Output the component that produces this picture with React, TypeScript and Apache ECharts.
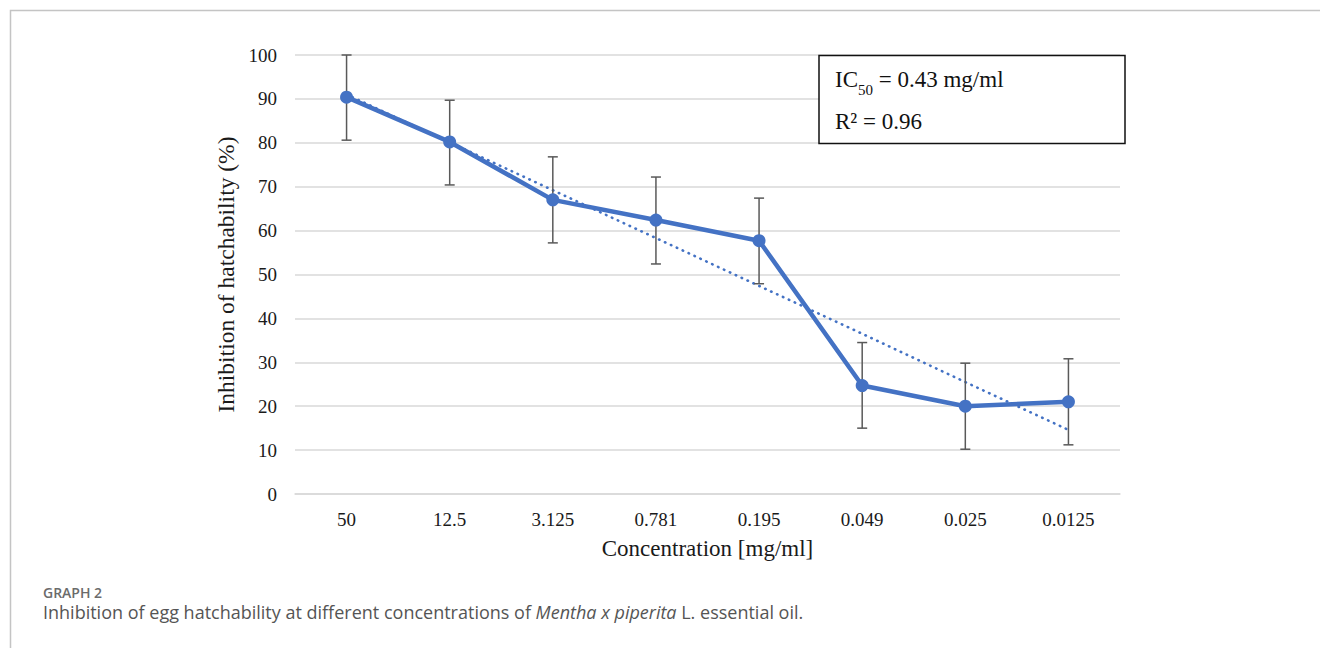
import React, { useEffect, useRef } from "react";
import * as echarts from "echarts";

const categories = ["50", "12.5", "3.125", "0.781", "0.195", "0.049", "0.025", "0.0125"];
const inhibition = [90.4, 80.2, 67.0, 62.4, 57.7, 24.7, 20.0, 21.0];
const errorLow = [80.6, 70.4, 57.2, 52.4, 47.9, 15.0, 10.2, 11.2];
const errorHigh = [100.0, 89.7, 76.8, 72.2, 67.4, 34.5, 29.8, 30.8];
const trendValues = [91.0, 80.1, 69.2, 58.3, 47.4, 36.5, 25.5, 14.6];
const yTicks = { min: 0, max: 100, interval: 10 };

const serif = "'Liberation Serif', 'Times New Roman', serif";
const sans = "'Open Sans', 'Noto Sans', sans-serif";

export default function App() {
  const ref = useRef<HTMLDivElement>(null);
  useEffect(() => {
    if (!ref.current) return;
    const chart = echarts.init(ref.current, null, { renderer: "svg" });
    const errData = categories.map((_, i) => [i, errorLow[i], errorHigh[i]]);
    chart.setOption({
      animation: false,
      backgroundColor: "#ffffff",
      grid: { left: 295, right: 200, top: 55, bottom: 154, containLabel: false },
      xAxis: {
        type: "category",
        data: categories,
        boundaryGap: true,
        axisLine: { show: true, lineStyle: { color: "#d9d9d9", width: 1.5 } },
        axisTick: { show: false },
        axisLabel: { color: "#1a1a1a", fontFamily: serif, fontSize: 19, margin: 16 },
        name: "Concentration [mg/ml]",
        nameLocation: "middle",
        nameGap: 43,
        nameTextStyle: { color: "#1a1a1a", fontFamily: serif, fontSize: 23 },
      },
      yAxis: {
        type: "value",
        min: yTicks.min,
        max: yTicks.max,
        interval: yTicks.interval,
        axisLine: { show: false },
        axisTick: { show: false },
        splitLine: { lineStyle: { color: "#d9d9d9", width: 1.5 } },
        axisLabel: { color: "#1a1a1a", fontFamily: serif, fontSize: 19, margin: 18 },
        name: "Inhibition of hatchability (%)",
        nameLocation: "middle",
        nameGap: 52,
        nameTextStyle: { color: "#1a1a1a", fontFamily: serif, fontSize: 23.5 },
      },
      series: [
        {
          type: "line",
          name: "trend",
          data: trendValues,
          symbol: "none",
          z: 2,
          lineStyle: { color: "#4472C4", width: 2.6, type: [0.5, 6], cap: "round" },
        },
        {
          type: "custom",
          name: "error",
          z: 3,
          data: errData,
          renderItem: (params: any, api: any) => {
            const i = api.value(0);
            const lo = api.coord([i, api.value(1)]);
            const hi = api.coord([i, api.value(2)]);
            const hw = 5;
            const style = { stroke: "#595959", lineWidth: 1.5 };
            return {
              type: "group",
              children: [
                { type: "line", shape: { x1: lo[0], y1: lo[1], x2: hi[0], y2: hi[1] }, style },
                { type: "line", shape: { x1: lo[0] - hw, y1: lo[1], x2: lo[0] + hw, y2: lo[1] }, style },
                { type: "line", shape: { x1: hi[0] - hw, y1: hi[1], x2: hi[0] + hw, y2: hi[1] }, style },
              ],
            };
          },
        },
        {
          type: "line",
          name: "inhibition",
          data: inhibition,
          z: 4,
          symbol: "circle",
          symbolSize: 13,
          itemStyle: { color: "#4472C4" },
          lineStyle: { color: "#4472C4", width: 4.5 },
        },
      ],
      graphic: [
        {
          type: "rect",
          z: -10,
          silent: true,
          shape: { x: 10.5, y: 10.5, width: 1400, height: 800 },
          style: { fill: "none", stroke: "#c4c4c4", lineWidth: 1.5 },
        },
        {
          type: "rect",
          z: 10,
          shape: { x: 819, y: 55.5, width: 306, height: 88 },
          style: { fill: "#ffffff", stroke: "#111", lineWidth: 1.5 },
        },
        {
          type: "text",
          z: 11,
          x: 835,
          y: 65,
          style: {
            text: "{m|IC}{s|50}{m| = 0.43 mg/ml}",
            rich: {
              m: { fontFamily: serif, fontSize: 23, fill: "#111", verticalAlign: "bottom", lineHeight: 26 },
              s: { fontFamily: serif, fontSize: 15, fill: "#111", verticalAlign: "bottom", lineHeight: 26, padding: [0, 0, -6, 0] },
            },
          },
        },
        {
          type: "text",
          z: 11,
          x: 835,
          y: 110,
          style: {
            text: "R² = 0.96",
            fontFamily: serif,
            fontSize: 23,
            fill: "#111",
          },
        },
        {
          type: "text",
          x: 43,
          y: 585,
          style: { text: "GRAPH 2", fontFamily: sans, fontSize: 14, fontWeight: 600, fill: "#6b6b6b" },
        },
        {
          type: "text",
          x: 43,
          y: 603,
          style: {
            text: "{n|Inhibition of egg hatchability at different concentrations of }{i|Mentha x piperita}{n| L. essential oil.}",
            rich: {
              n: { fontFamily: sans, fontSize: 18, fill: "#555" },
              i: { fontFamily: sans, fontSize: 18, fill: "#555", fontStyle: "italic" },
            },
          },
        },
      ],
    });
    return () => chart.dispose();
  }, []);
  return (
    <div
      ref={ref}
      style={{ position: "fixed", left: 0, top: 0, width: 1320, height: 648, background: "#fff" }}
    />
  );
}
